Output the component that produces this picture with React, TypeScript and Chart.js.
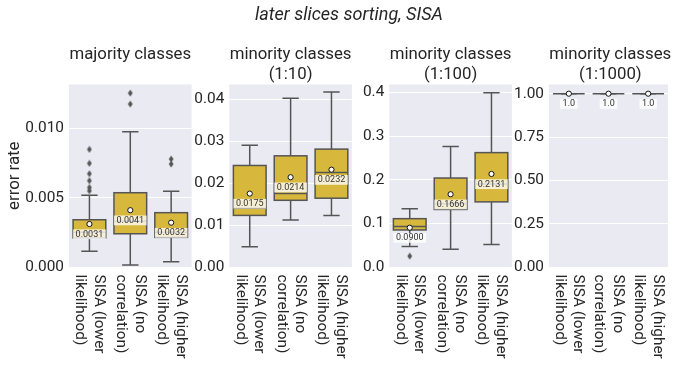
import { useEffect, useRef } from "react";
import { Chart, registerables } from "chart.js";

Chart.register(...registerables);

const W = 673;
const H = 368;

// Categories (line breaks mark where the rotated tick labels wrap)
const CATEGORIES = [
  "SISA (lower\nlikelihood)",
  "SISA (no\ncorrelation)",
  "SISA (higher\nlikelihood)",
];

const SUPTITLE = "later slices sorting, SISA";
const Y_LABEL = "error rate";
const PANEL_TITLES = [
  ["majority classes"],
  ["minority classes", "(1:10)"],
  ["minority classes", "(1:100)"],
  ["minority classes", "(1:1000)"],
];

// Box statistics, one row per panel, one value per category
const WHISKER_LOW = [
  [0.00113, 0.00014, 0.00038],
  [0.0048, 0.0112, 0.0123],
  [0.047, 0.0409, 0.0515],
  [1.0, 1.0, 1.0],
];
const Q1 = [
  [0.0021, 0.0024, 0.00214],
  [0.0123, 0.0159, 0.0164],
  [0.0848, 0.1318, 0.1492],
  [1.0, 1.0, 1.0],
];
const MEDIAN = [
  [0.0025, 0.0033, 0.0025],
  [0.014, 0.0175, 0.0225],
  [0.0925, 0.145, 0.19],
  [1.0, 1.0, 1.0],
];
const Q3 = [
  [0.00341, 0.00536, 0.00392],
  [0.0242, 0.0265, 0.0281],
  [0.1107, 0.2038, 0.262],
  [1.0, 1.0, 1.0],
];
const WHISKER_HIGH = [
  [0.00517, 0.00976, 0.00546],
  [0.029, 0.0402, 0.0417],
  [0.1334, 0.2758, 0.3993],
  [1.0, 1.0, 1.0],
];
const MEANS = [
  [0.0031, 0.0041, 0.0032],
  [0.0175, 0.0214, 0.0232],
  [0.09, 0.1666, 0.2131],
  [1.0, 1.0, 1.0],
];
const OUTLIERS = [
  [
    [0.0055, 0.00574, 0.00623, 0.00673, 0.00748, 0.00849],
    [0.01176, 0.01255],
    [0.00743, 0.00779],
  ],
  [[], [], []],
  [[0.025], [], []],
  [[], [], []],
];

// Axis ranges and tick labels
const Y_MAX = [0.01317, 0.0435, 0.418, 1.053];
const Y_TICKS = [
  [0, 0.005, 0.01],
  [0, 0.01, 0.02, 0.03, 0.04],
  [0, 0.1, 0.2, 0.3, 0.4],
  [0, 0.25, 0.5, 0.75, 1.0],
];
const TICK_DECIMALS = [3, 2, 1, 2];
const MEAN_DECIMALS = [4, 4, 4, 1];

// Layout
const PANEL_LEFT = [69, 229.3, 389.3, 549];
const PANEL_WIDTH = 122.6;
const PLOT_TOP = 84.5;
const PLOT_BOTTOM = 267;
const BOX_FRACTION = 0.8;

// Style
const FONT = "Roboto";
const TEXT = "#262626";
const PANEL_BG = "#EAEAF2";
const GOLD = "#D8B83C";
const LINE_GRAY = "#555555";

function thinDiamond(): HTMLCanvasElement {
  const c = document.createElement("canvas");
  c.width = 6;
  c.height = 8;
  const g = c.getContext("2d")!;
  g.fillStyle = LINE_GRAY;
  g.beginPath();
  g.moveTo(3, 0.5);
  g.lineTo(5.4, 4);
  g.lineTo(3, 7.5);
  g.lineTo(0.6, 4);
  g.closePath();
  g.fill();
  return c;
}

function buildPanel(canvas: HTMLCanvasElement, p: number): Chart {
  const left = PANEL_LEFT[p];
  const right = left + PANEL_WIDTH;

  const geometry = (chart: any) => {
    const xs = chart.scales.x;
    const ys = chart.scales.y;
    const band = (xs.right - xs.left) / CATEGORIES.length;
    return { xs, ys, boxW: band * BOX_FRACTION };
  };

  const boxPlugin = {
    id: "boxes",
    beforeDraw(chart: any) {
      const { ctx, chartArea: a } = chart;
      ctx.save();
      ctx.fillStyle = PANEL_BG;
      ctx.fillRect(a.left, a.top, a.right - a.left, a.bottom - a.top);
      ctx.restore();
    },
    beforeDatasetsDraw(chart: any) {
      const { ctx } = chart;
      const { xs, ys, boxW } = geometry(chart);
      ctx.save();
      ctx.strokeStyle = LINE_GRAY;
      ctx.lineWidth = 1.5;
      CATEGORIES.forEach((_, i) => {
        const x = xs.getPixelForValue(i);
        const lo = ys.getPixelForValue(WHISKER_LOW[p][i]);
        const hi = ys.getPixelForValue(WHISKER_HIGH[p][i]);
        const q1 = ys.getPixelForValue(Q1[p][i]);
        const q3 = ys.getPixelForValue(Q3[p][i]);
        ctx.beginPath();
        ctx.moveTo(x, q1);
        ctx.lineTo(x, lo);
        ctx.moveTo(x, q3);
        ctx.lineTo(x, hi);
        ctx.moveTo(x - boxW / 4, lo);
        ctx.lineTo(x + boxW / 4, lo);
        ctx.moveTo(x - boxW / 4, hi);
        ctx.lineTo(x + boxW / 4, hi);
        ctx.stroke();
      });
      ctx.restore();
    },
    afterDatasetDraw(chart: any, args: any) {
      if (args.index !== 0) return;
      const { ctx } = chart;
      const { xs, ys, boxW } = geometry(chart);
      ctx.save();
      ctx.strokeStyle = LINE_GRAY;
      ctx.lineWidth = 1.5;
      CATEGORIES.forEach((_, i) => {
        const x = xs.getPixelForValue(i);
        const q1 = ys.getPixelForValue(Q1[p][i]);
        const q3 = ys.getPixelForValue(Q3[p][i]);
        const med = ys.getPixelForValue(MEDIAN[p][i]);
        if (q1 - q3 > 0.5) ctx.strokeRect(x - boxW / 2, q3, boxW, q1 - q3);
        ctx.beginPath();
        ctx.moveTo(x - boxW / 2, med);
        ctx.lineTo(x + boxW / 2, med);
        ctx.stroke();
      });
      ctx.restore();
    },
    afterDatasetsDraw(chart: any) {
      const { ctx } = chart;
      const { xs, ys } = geometry(chart);
      ctx.save();
      ctx.font = `9px ${FONT}`;
      ctx.textAlign = "center";
      ctx.textBaseline = "middle";
      CATEGORIES.forEach((_, i) => {
        const x = xs.getPixelForValue(i);
        const y = ys.getPixelForValue(MEANS[p][i]);
        const label = MEANS[p][i].toFixed(MEAN_DECIMALS[p]);
        const w = ctx.measureText(label).width;
        ctx.fillStyle = "rgba(255,255,255,0.78)";
        ctx.fillRect(x - w / 2 - 2.5, y + 5.3, w + 5, 9.8);
        ctx.fillStyle = "#333333";
        ctx.fillText(label, x, y + 10.4);
      });
      ctx.restore();
    },
    afterDraw(chart: any) {
      const { ctx } = chart;
      const { xs } = geometry(chart);
      const cx = (left + right) / 2;
      ctx.save();
      ctx.fillStyle = TEXT;

      // panel title
      ctx.font = `16.8px ${FONT}`;
      ctx.textAlign = "center";
      ctx.textBaseline = "alphabetic";
      PANEL_TITLES[p].forEach((line, k) => ctx.fillText(line, cx, 58.5 + k * 20));

      // rotated category labels
      ctx.font = `15.4px ${FONT}`;
      CATEGORIES.forEach((cat, i) => {
        const lines = cat.split("\n");
        const x = xs.getPixelForValue(i);
        ctx.save();
        ctx.translate(x, PLOT_BOTTOM + 7.5);
        ctx.rotate(Math.PI / 2);
        ctx.textAlign = "left";
        ctx.textBaseline = "middle";
        lines.forEach((line, k) => {
          ctx.fillText(line, 0, (k - (lines.length - 1) / 2) * 18.5);
        });
        ctx.restore();
      });

      if (p === 0) {
        ctx.font = `italic 18px ${FONT}`;
        ctx.textAlign = "center";
        ctx.textBaseline = "alphabetic";
        ctx.fillText(SUPTITLE, 349, 19.5);

        ctx.font = `16.8px ${FONT}`;
        ctx.translate(18.5, (PLOT_TOP + PLOT_BOTTOM) / 2);
        ctx.rotate(-Math.PI / 2);
        ctx.fillText(Y_LABEL, 0, 0);
      }
      ctx.restore();
    },
  };

  const diamond = thinDiamond();

  return new Chart(canvas, {
    type: "bar",
    data: {
      labels: CATEGORIES,
      datasets: [
        {
          type: "bar",
          data: Q1[p].map((q, i) => [q, Q3[p][i]]) as any,
          backgroundColor: GOLD,
          borderWidth: 0,
          barPercentage: BOX_FRACTION,
          categoryPercentage: 1,
          order: 3,
        },
        {
          type: "line",
          data: OUTLIERS[p].flatMap((vals, i) =>
            vals.map((y) => ({ x: CATEGORIES[i], y }))
          ) as any,
          showLine: false,
          pointStyle: diamond as any,
          pointRadius: 3,
          order: 2,
        },
        {
          type: "line",
          data: MEANS[p].map((y, i) => ({ x: CATEGORIES[i], y })) as any,
          showLine: false,
          pointStyle: "circle",
          pointRadius: 2.6,
          pointBackgroundColor: "#ffffff",
          pointBorderColor: "#111111",
          pointBorderWidth: 1,
          order: 1,
        },
      ],
    },
    options: {
      animation: false,
      responsive: false,
      devicePixelRatio: 1,
      events: [],
      layout: {
        padding: { top: PLOT_TOP, right: W - right, bottom: 0, left: 0 },
      },
      plugins: {
        legend: { display: false },
        tooltip: { enabled: false },
        title: { display: false },
      },
      scales: {
        x: {
          type: "category",
          offset: true,
          grid: { display: false, drawTicks: false },
          border: { display: false },
          ticks: { display: false },
          afterFit: (scale: any) => {
            scale.height = H - PLOT_BOTTOM;
          },
        },
        y: {
          type: "linear",
          min: 0,
          max: Y_MAX[p],
          grid: { color: "#ffffff", lineWidth: 1, drawTicks: false },
          border: { display: false },
          ticks: {
            color: TEXT,
            padding: 5,
            font: { family: FONT, size: 15.4 },
            callback: (v: any) => Number(v).toFixed(TICK_DECIMALS[p]),
          },
          afterBuildTicks: (scale: any) => {
            scale.ticks = Y_TICKS[p].map((v) => ({ value: v }));
          },
          afterFit: (scale: any) => {
            scale.width = left;
          },
        },
      },
    },
    plugins: [boxPlugin],
  });
}

export default function App() {
  const canvases = useRef<(HTMLCanvasElement | null)[]>([]);

  useEffect(() => {
    const charts = PANEL_LEFT.map((_, p) => buildPanel(canvases.current[p]!, p));
    return () => charts.forEach((c) => c.destroy());
  }, []);

  return (
    <div
      style={{
        position: "absolute",
        left: 0,
        top: 0,
        width: W,
        height: H,
        background: "#ffffff",
      }}
    >
      {PANEL_LEFT.map((_, p) => (
        <canvas
          key={p}
          ref={(el) => {
            canvases.current[p] = el;
          }}
          width={W}
          height={H}
          style={{ position: "absolute", left: 0, top: 0 }}
        />
      ))}
    </div>
  );
}
